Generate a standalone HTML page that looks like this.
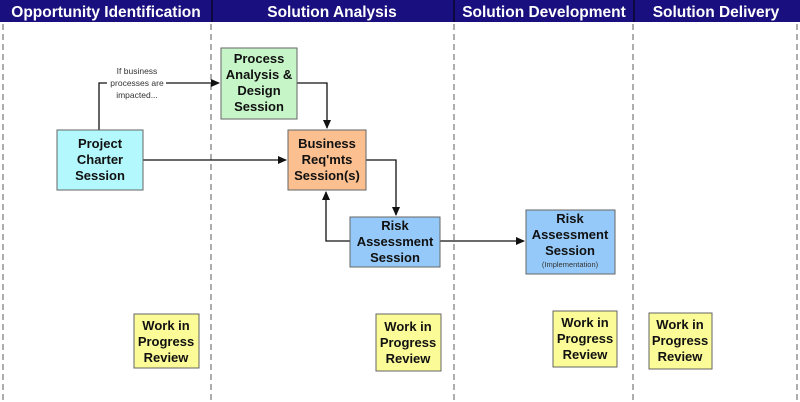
<!DOCTYPE html>
<html><head><meta charset="utf-8"><style>
html,body{margin:0;padding:0;background:#fff;}
svg{display:block;font-family:"Liberation Sans",Arial,sans-serif;}
.b{font-weight:bold;font-size:13px;fill:#111;text-anchor:middle;}
.h{font-weight:bold;font-size:15.5px;fill:#fff;text-anchor:middle;}
.d{stroke:#777;stroke-width:1.2;stroke-dasharray:6,4;}
.l{stroke:#111;stroke-width:1.3;fill:none;}
.bx{stroke:#666;stroke-width:1;}
</style></head><body>
<svg width="800" height="402" viewBox="0 0 800 402">
<defs><marker id="a" markerWidth="10" markerHeight="10" refX="8" refY="4" orient="auto" markerUnits="userSpaceOnUse"><path d="M0,0 L9,4 L0,8 z" fill="#111"/></marker></defs>
<rect x="0" y="0" width="800" height="22" fill="#1a0f7e"/>
<line x1="212" y1="0" x2="212" y2="22" stroke="#000" stroke-width="1"/>
<line x1="454" y1="0" x2="454" y2="22" stroke="#000" stroke-width="1"/>
<line x1="634" y1="0" x2="634" y2="22" stroke="#000" stroke-width="1"/>
<text class="h" x="106" y="17">Opportunity Identification</text>
<text class="h" x="332" y="17">Solution Analysis</text>
<text class="h" x="544" y="17">Solution Development</text>
<text class="h" x="716" y="17">Solution Delivery</text>
<line class="d" x1="3" y1="24" x2="3" y2="402"/>
<line class="d" x1="211" y1="24" x2="211" y2="402"/>
<line class="d" x1="454" y1="24" x2="454" y2="402"/>
<line class="d" x1="633" y1="24" x2="633" y2="402"/>
<line class="d" x1="797" y1="24" x2="797" y2="402"/>
<path class="l" d="M99,130 V83 H107"/>
<path class="l" d="M166,83 H219" marker-end="url(#a)"/>
<text x="137" y="74" font-size="8.5" fill="#333" text-anchor="middle">If business</text>
<text x="137" y="86" font-size="8.5" fill="#333" text-anchor="middle">processes are</text>
<text x="137" y="98" font-size="8.5" fill="#333" text-anchor="middle">impacted...</text>
<path class="l" d="M143,160 H286" marker-end="url(#a)"/>
<path class="l" d="M297,83 H327 V128" marker-end="url(#a)"/>
<path class="l" d="M366,160 H396 V215" marker-end="url(#a)"/>
<path class="l" d="M350,241 H326 V192" marker-end="url(#a)"/>
<path class="l" d="M440,241 H524" marker-end="url(#a)"/>
<rect class="bx" x="57" y="130" width="86" height="60" fill="#b3f8fc"/>
<text class="b" x="100" y="148">Project</text><text class="b" x="100" y="164">Charter</text><text class="b" x="100" y="180">Session</text>
<rect class="bx" x="221" y="48" width="76" height="71" fill="#c6f6c8"/>
<text class="b" x="259" y="63">Process</text><text class="b" x="259" y="79">Analysis &amp;</text><text class="b" x="259" y="95">Design</text><text class="b" x="259" y="111">Session</text>
<rect class="bx" x="288" y="130" width="78" height="60" fill="#fbbf90"/>
<text class="b" x="327" y="148">Business</text><text class="b" x="327" y="164">Req'mts</text><text class="b" x="327" y="180">Session(s)</text>
<rect class="bx" x="350" y="217" width="90" height="50" fill="#95c9f9"/>
<text class="b" x="395" y="230">Risk</text><text class="b" x="395" y="246">Assessment</text><text class="b" x="395" y="262">Session</text>
<rect class="bx" x="526" y="210" width="89" height="64" fill="#95c9f9"/>
<text class="b" x="570" y="223">Risk</text><text class="b" x="570" y="239">Assessment</text><text class="b" x="570" y="255">Session</text>
<text x="570" y="267" font-size="7.5" fill="#333" text-anchor="middle">(Implementation)</text>
<g>
<rect class="bx" x="134" y="314" width="65" height="54" fill="#fbfb98"/>
<text class="b" x="166" y="330">Work in</text><text class="b" x="166" y="346">Progress</text><text class="b" x="166" y="362">Review</text>
<rect class="bx" x="376" y="314" width="65" height="57" fill="#fbfb98"/>
<text class="b" x="408" y="331">Work in</text><text class="b" x="408" y="347">Progress</text><text class="b" x="408" y="363">Review</text>
<rect class="bx" x="553" y="311" width="64" height="56" fill="#fbfb98"/>
<text class="b" x="585" y="327">Work in</text><text class="b" x="585" y="343">Progress</text><text class="b" x="585" y="359">Review</text>
<rect class="bx" x="649" y="313" width="63" height="56" fill="#fbfb98"/>
<text class="b" x="680" y="329">Work in</text><text class="b" x="680" y="345">Progress</text><text class="b" x="680" y="361">Review</text>
</g>
</svg>
</body></html>
